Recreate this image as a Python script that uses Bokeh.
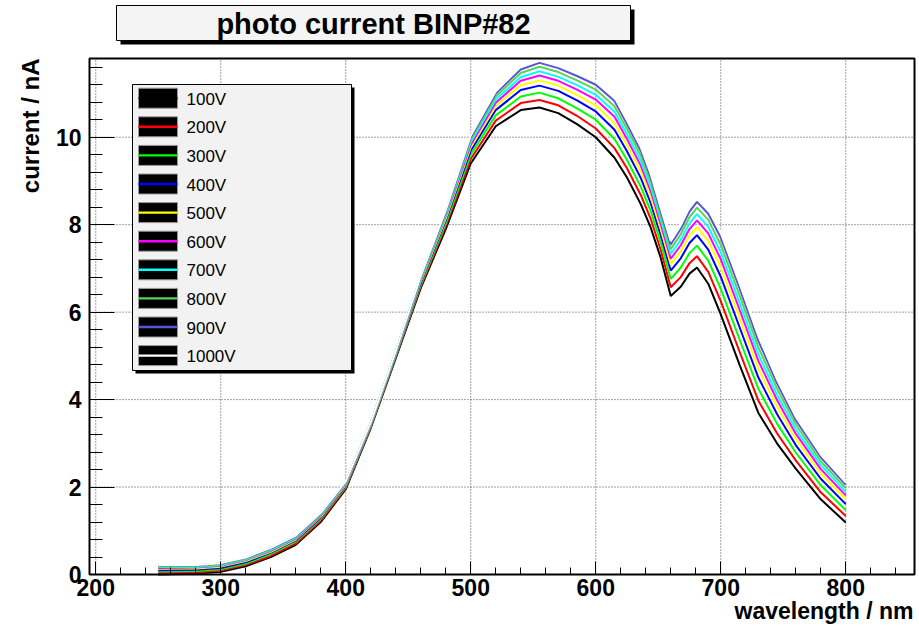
import math
from bokeh.plotting import figure
from bokeh.models import Range1d, SingleIntervalTicker, BoxAnnotation, Label
from bokeh.embed import file_html
from bokeh.resources import INLINE

# ---------------- data ----------------
wavelength = [250, 280, 300, 320, 340, 360, 380, 400, 420, 440, 460, 480, 500, 520, 540, 555,
              570, 585, 600, 615, 625, 636, 644, 652, 660, 668, 675, 681, 690, 700, 715, 730,
              745, 760, 780, 800]

v100 = [0.00, 0.02, 0.06, 0.19, 0.40, 0.68, 1.20, 1.95, 3.35, 4.95, 6.55, 7.90, 9.40, 10.25, 10.62, 10.68,
        10.55, 10.30, 10.00, 9.53, 9.08, 8.47, 7.93, 7.24, 6.37, 6.58, 6.88, 7.02, 6.65, 5.95, 4.80, 3.70,
        3.00, 2.42, 1.72, 1.19]
v200 = [0.04, 0.05, 0.09, 0.22, 0.43, 0.71, 1.23, 1.98, 3.37, 4.98, 6.59, 7.97, 9.50, 10.38, 10.78, 10.85,
        10.73, 10.49, 10.20, 9.75, 9.29, 8.68, 8.13, 7.42, 6.57, 6.80, 7.12, 7.28, 6.92, 6.25, 5.10, 3.98,
        3.23, 2.61, 1.88, 1.34]
v300 = [0.07, 0.08, 0.12, 0.25, 0.47, 0.75, 1.27, 2.01, 3.39, 5.00, 6.63, 8.03, 9.60, 10.50, 10.93, 11.02,
        10.89, 10.66, 10.40, 9.96, 9.48, 8.87, 8.31, 7.59, 6.76, 7.02, 7.35, 7.52, 7.18, 6.53, 5.38, 4.25,
        3.45, 2.79, 2.04, 1.47]
v400 = [0.10, 0.11, 0.15, 0.28, 0.50, 0.78, 1.30, 2.03, 3.41, 5.02, 6.67, 8.10, 9.69, 10.62, 11.08, 11.18,
        11.06, 10.84, 10.59, 10.17, 9.68, 9.07, 8.49, 7.76, 6.95, 7.23, 7.58, 7.76, 7.43, 6.81, 5.66, 4.51,
        3.67, 2.96, 2.19, 1.61]
v500 = [0.13, 0.14, 0.18, 0.31, 0.52, 0.80, 1.32, 2.05, 3.42, 5.04, 6.70, 8.14, 9.77, 10.71, 11.19, 11.30,
        11.18, 10.97, 10.73, 10.32, 9.82, 9.21, 8.63, 7.89, 7.09, 7.39, 7.75, 7.94, 7.63, 7.02, 5.87, 4.71,
        3.84, 3.10, 2.31, 1.72]
v600 = [0.15, 0.16, 0.20, 0.33, 0.54, 0.82, 1.34, 2.07, 3.44, 5.06, 6.73, 8.19, 9.83, 10.79, 11.29, 11.41,
        11.29, 11.09, 10.86, 10.47, 9.96, 9.35, 8.76, 8.01, 7.22, 7.53, 7.90, 8.10, 7.80, 7.21, 6.06, 4.89,
        3.99, 3.22, 2.41, 1.81]
v700 = [0.17, 0.17, 0.21, 0.34, 0.56, 0.84, 1.36, 2.09, 3.45, 5.07, 6.75, 8.22, 9.89, 10.86, 11.37, 11.51,
        11.38, 11.19, 10.97, 10.58, 10.07, 9.46, 8.86, 8.11, 7.33, 7.65, 8.03, 8.24, 7.95, 7.37, 6.22, 5.04,
        4.11, 3.32, 2.50, 1.89]
v800 = [0.19, 0.19, 0.23, 0.36, 0.58, 0.86, 1.38, 2.11, 3.46, 5.09, 6.78, 8.26, 9.95, 10.93, 11.47, 11.61,
        11.49, 11.30, 11.09, 10.71, 10.19, 9.58, 8.98, 8.21, 7.44, 7.78, 8.17, 8.39, 8.11, 7.54, 6.39, 5.20,
        4.25, 3.43, 2.59, 1.97]
v900 = [0.21, 0.21, 0.25, 0.38, 0.60, 0.88, 1.40, 2.12, 3.47, 5.10, 6.80, 8.30, 10.00, 11.00, 11.55, 11.70,
        11.58, 11.40, 11.20, 10.83, 10.30, 9.69, 9.08, 8.31, 7.55, 7.90, 8.30, 8.52, 8.25, 7.70, 6.55, 5.35,
        4.37, 3.53, 2.68, 2.05]
v1000 = [0.22, 0.22, 0.26, 0.39, 0.61, 0.89, 1.41, 2.13, 3.48, 5.11, 6.82, 8.33, 10.04, 11.05, 11.62, 11.77,
         11.65, 11.48, 11.28, 10.92, 10.39, 9.78, 9.16, 8.38, 7.63, 7.99, 8.40, 8.63, 8.36, 7.82, 6.67, 5.47,
         4.47, 3.61, 2.75, 2.11]

labels = ["100V", "200V", "300V", "400V", "500V", "600V", "700V", "800V", "900V", "1000V"]
series = [v100, v200, v300, v400, v500, v600, v700, v800, v900, v1000]
colors = ["#000000", "#ff0000", "#00ff00", "#0000ff", "#ffff00", "#ff00ff", "#00ffff",
          "#59d454", "#5954d8", "#ffffff"]

x_grid_ticks = [200, 300, 400, 500, 600, 700, 800]
y_grid_ticks = [2, 4, 6, 8, 10]

title_text = "photo current BINP#82"
x_title = "wavelength / nm"
y_title = "current / nA"

FONT = "Liberation Sans"

# ---------------- layout ----------------
W, H = 919, 626
FL, FR, FT, FB = 89, 914, 58, 574        # axis frame edges in canvas pixels
XMIN, XMAX = 195.0, 855.0                # axis extent (data)
YMIN, YMAX = 0.0, 11.8
kx = (FR - FL) / (XMAX - XMIN)
ky = (FB - FT) / (YMAX - YMIN)

# the drawing frame covers the whole canvas so that titles and the
# shadowed boxes can be placed anywhere; the axes sit at fixed locations
p = figure(width=W, height=H, output_backend="svg", toolbar_location=None, title=None,
           x_range=Range1d(XMIN - FL / kx, XMAX + (W - FR) / kx),
           y_range=Range1d(YMIN - (H - FB) / ky, YMAX + FT / ky),
           min_border=0, min_border_left=0, min_border_right=0,
           min_border_top=0, min_border_bottom=0,
           background_fill_color="white", border_fill_color="white")
p.outline_line_color = None
p.xgrid.visible = False
p.ygrid.visible = False

xa, ya = p.xaxis[0], p.yaxis[0]
xa.fixed_location = YMIN
ya.fixed_location = XMIN
xa.bounds = (XMIN, XMAX)
ya.bounds = (YMIN, YMAX)
for ax in (xa, ya):
    ax.axis_line_color = "black"
    ax.axis_line_width = 1
    ax.major_tick_out = 0
    ax.minor_tick_out = 0
    ax.major_tick_line_color = "black"
    ax.minor_tick_line_color = "black"
    ax.major_label_text_font = FONT
    ax.major_label_text_font_style = "bold"
    ax.major_label_text_font_size = "23px"
    ax.major_label_text_color = "black"

xa.ticker = SingleIntervalTicker(interval=100, num_minor_ticks=5)
ya.ticker = SingleIntervalTicker(interval=2, num_minor_ticks=5)
xa.major_tick_in = 13
xa.minor_tick_in = 7
ya.major_tick_in = 25
ya.minor_tick_in = 13
xa.major_label_standoff = 4
ya.major_label_standoff = 8

# dotted grid inside the axis frame
p.segment(x0=x_grid_ticks, x1=x_grid_ticks, y0=[YMIN] * len(x_grid_ticks), y1=[YMAX] * len(x_grid_ticks),
          line_color="#444444", line_dash="1 2", line_width=1)
p.segment(x0=[XMIN] * len(y_grid_ticks), x1=[XMAX] * len(y_grid_ticks), y0=y_grid_ticks, y1=y_grid_ticks,
          line_color="#444444", line_dash="1 2", line_width=1)

# ---------------- curves ----------------
for vals, col in zip(series, colors):
    p.line(wavelength, vals, line_color=col, line_width=2)

# frame outline
p.add_layout(BoxAnnotation(left=XMIN, right=XMAX, bottom=YMIN, top=YMAX,
                           fill_alpha=0.0, fill_color=None, line_color="black",
                           line_alpha=1.0, line_width=2))

# ---------------- helpers for screen placement ----------------
def sx(px):
    return px

def sy(py):
    return H - py

def box(l, t, r, b, fill, line=None, lw=1):
    ba = BoxAnnotation(left=sx(l), right=sx(r), top=sy(t), bottom=sy(b),
                       left_units="screen", right_units="screen",
                       top_units="screen", bottom_units="screen",
                       fill_color=fill, fill_alpha=1.0,
                       line_color=line, line_alpha=1.0, line_width=lw)
    p.add_layout(ba)

def text(px, py, s, size, bold=False, align="left", angle=0.0):
    p.add_layout(Label(x=sx(px), y=sy(py), x_units="screen", y_units="screen", text=s,
                       text_font=FONT, text_font_size=size,
                       text_font_style="bold" if bold else "normal",
                       text_align=align, text_baseline="middle", angle=angle,
                       text_color="black"))

# ---------------- legend ----------------
box(135, 87, 354, 373, "black")                    # shadow
box(132, 84, 351, 370, "#f2f2f2", "black", 1)      # legend panel
for i, (lab, col) in enumerate(zip(labels, colors)):
    cy = 97.7 + i * 28.6
    box(138, cy - 10, 177, cy + 10, "black", "#999999", 1)
    box(138, cy - 1.2, 177, cy + 1.2, col)
    text(186, cy + 1, lab, "17px")

# ---------------- title ----------------
box(120, 9, 634, 44, "black")                      # shadow
box(116, 5, 630, 40, "#f4f4f4", "black", 1)
text(373, 23, title_text, "29px", bold=True, align="center")

# ---------------- axis titles ----------------
text(913, 610, x_title, "23px", bold=True, align="right")
text(30, 58, y_title, "24px", bold=True, align="right", angle=math.pi / 2)

open("out.html", "w").write(file_html(p, INLINE))
